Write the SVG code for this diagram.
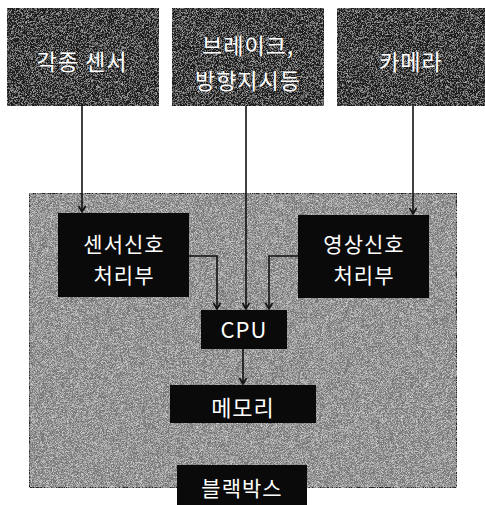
<svg xmlns="http://www.w3.org/2000/svg" width="485" height="505" viewBox="0 0 485 505">
<style>
.lbl{font-family:"Noto Sans CJK KR","Noto Sans",sans-serif;font-size:22px;fill:#fff;text-anchor:middle;letter-spacing:1px}
.sm{font-size:21px}
.top{fill:#1c1c1c}
.inner{fill:#0a0a0a}
.wire{fill:none;stroke:#111;stroke-width:1.6}
</style>
<defs>
<filter id="grain" x="0" y="0" width="100%" height="100%">
<feTurbulence type="fractalNoise" baseFrequency="2.2" numOctaves="1" seed="5" result="n"/>
<feColorMatrix in="n" type="matrix" values="0 0 0 0 1 0 0 0 0 1 0 0 0 0 1 0 0 0 -1.6 0.95" result="w"/>
<feComposite in="w" in2="SourceGraphic" operator="in" result="wi"/>
<feMerge><feMergeNode in="SourceGraphic"/><feMergeNode in="wi"/></feMerge>
</filter>
<filter id="grainDark" x="0" y="0" width="100%" height="100%">
<feTurbulence type="fractalNoise" baseFrequency="2.2" numOctaves="1" seed="9" result="n"/>
<feColorMatrix in="n" type="matrix" values="0 0 0 0 1 0 0 0 0 1 0 0 0 0 1 0 0 0 -1.4 0.75" result="w"/>
<feComposite in="w" in2="SourceGraphic" operator="in" result="wi"/>
<feMerge><feMergeNode in="SourceGraphic"/><feMergeNode in="wi"/></feMerge>
</filter>
<marker id="arr" markerWidth="10" markerHeight="10" refX="8" refY="5" orient="auto" markerUnits="userSpaceOnUse">
<path d="M2,1.5 L8,5 L2,8.5" fill="none" stroke="#111" stroke-width="1.6"/>
</marker>
</defs>
<rect width="485" height="505" fill="#fff"/>
<g id="blackbox">
<rect x="29" y="193" width="428" height="295" fill="#777" stroke="#222" stroke-width="2" filter="url(#grain)"/>
</g>
<g id="sensors">
<rect class="top" x="7" y="8" width="152" height="98" filter="url(#grainDark)"/>
<text class="lbl" x="82" y="70">각종 센서</text>
</g>
<g id="brake">
<rect class="top" x="172" y="8" width="152" height="98" filter="url(#grainDark)"/>
<text class="lbl" x="248" y="54">브레이크,</text>
<text class="lbl" x="248" y="89">방향지시등</text>
</g>
<g id="camera">
<rect class="top" x="337" y="8" width="148" height="98" filter="url(#grainDark)"/>
<text class="lbl" x="411" y="70">카메라</text>
</g>
<g id="sensor-proc">
<rect class="inner" x="58" y="213" width="131" height="84"/>
<text class="lbl sm" x="124" y="252">센서신호</text>
<text class="lbl sm" x="124" y="283">처리부</text>
</g>
<g id="image-proc">
<rect class="inner" x="298" y="215" width="131" height="83"/>
<text class="lbl sm" x="364" y="252">영상신호</text>
<text class="lbl sm" x="364" y="283">처리부</text>
</g>
<g id="cpu">
<rect class="inner" x="201" y="310" width="86" height="39"/>
<text class="lbl" x="244" y="338">CPU</text>
</g>
<g id="memory">
<rect class="inner" x="170" y="385" width="146" height="38"/>
<text class="lbl" x="243" y="416">메모리</text>
</g>
<g id="blackbox-label">
<rect class="inner" x="177" y="465" width="130" height="40"/>
<text class="lbl sm" x="242" y="496">블랙박스</text>
</g>
<g id="connectors">
<path class="wire" d="M82,106 V212" marker-end="url(#arr)"/>
<path class="wire" d="M246,106 V309" marker-end="url(#arr)"/>
<path class="wire" d="M413,106 V214" marker-end="url(#arr)"/>
<path class="wire" d="M189,256 H217 V309" marker-end="url(#arr)"/>
<path class="wire" d="M298,256 H269 V309" marker-end="url(#arr)"/>
<path class="wire" d="M243,349 V384" marker-end="url(#arr)"/>
</g>
</svg>
